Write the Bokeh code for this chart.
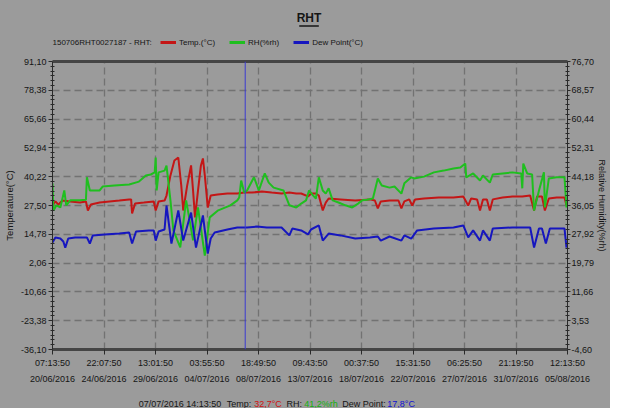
from bokeh.plotting import figure
from bokeh.layouts import column
from bokeh.models import (Range1d, LinearAxis, FixedTicker, Span, Legend, LegendItem, Grid)
from bokeh.core.properties import value
from bokeh.embed import file_html
from bokeh.resources import INLINE

# ---------------- data ----------------
TOTAL_HOURS = 1109            # 20/06/2016 07:13:50 -> 05/08/2016 12:13:50
TICK_STEP_MIN = 6654          # 4 d 14 h 54 min
x_tick_labels = ["07:13:50\n20/06/2016", "22:07:50\n24/06/2016", "13:01:50\n29/06/2016",
                 "03:55:50\n04/07/2016", "18:49:50\n08/07/2016", "09:43:50\n13/07/2016",
                 "00:37:50\n18/07/2016", "15:31:50\n22/07/2016", "06:25:50\n27/07/2016",
                 "21:19:50\n31/07/2016", "12:13:50\n05/08/2016"]
temp_ticks = [91.10, 78.38, 65.66, 52.94, 40.22, 27.50, 14.78, 2.06, -10.66, -23.38, -36.10]
rh_ticks = [76.70, 68.57, 60.44, 52.31, 44.18, 36.05, 27.92, 19.79, 11.66, 3.53, -4.60]

# (hours since start, value)
temp_series = [
    (0, 27.5), (6.3, 29.3), (12.7, 27.9), (21.2, 29.7), (38.1, 29.3), (59.3, 28.8), (72.0, 29.3),
    (76.2, 25.3), (82.5, 27.9), (101.6, 28.8), (122.8, 29.3), (143.9, 29.7), (165.1, 30.2),
    (169.3, 30.2), (171.4, 24.0), (177.8, 28.4), (196.8, 28.8), (218.0, 29.3), (222.2, 25.3),
    (228.5, 29.3), (241.3, 29.7), (245.5, 31.9), (254.0, 40.8), (262.5, 47.4), (270.9, 48.7),
    (277.3, 36.3), (281.5, 25.3), (290.0, 36.3), (298.4, 45.2), (302.7, 34.1), (306.9, 22.2),
    (313.3, 34.1), (319.6, 45.2), (323.9, 48.3), (328.0, 40.8), (334.4, 26.6), (340.7, 31.9),
    (355.6, 32.4), (376.7, 32.8), (397.9, 32.8), (412.7, 33.2), (429.7, 33.2), (450.8, 33.7),
    (472.0, 33.2), (493.2, 32.8), (510.1, 33.2), (524.9, 32.8), (535.5, 32.8), (550.3, 31.5),
    (556.6, 32.8), (567.2, 32.8), (573.5, 31.9), (582.0, 25.3), (588.4, 28.8), (594.7, 30.6),
    (620.1, 30.2), (651.9, 29.7), (683.6, 30.2), (694.2, 29.7), (700.5, 26.2), (706.9, 29.3),
    (725.9, 29.7), (745.0, 29.7), (751.3, 26.2), (757.7, 29.3), (768.2, 30.2), (774.6, 27.5),
    (780.9, 30.2), (800.0, 30.6), (831.7, 31.0), (863.5, 31.0), (884.6, 31.5), (895.2, 27.5),
    (901.6, 30.6), (914.3, 30.2), (920.6, 25.3), (927.0, 30.2), (935.4, 30.2), (941.8, 25.3),
    (948.1, 30.2), (969.3, 31.0), (990.5, 31.5), (1011.6, 31.5), (1028.6, 31.9), (1037.0, 25.3),
    (1043.4, 31.5), (1054.0, 31.5), (1060.3, 25.3), (1068.8, 30.6), (1085.7, 31.0),
    (1102.6, 31.0), (1106.8, 27.5),
]
rh_series = [
    (0, 42.3), (2.1, 34.6), (8.5, 36.1), (16.9, 35.5), (25.4, 40.3), (29.6, 36.1), (38.1, 37.5),
    (59.3, 37.5), (72.0, 37.7), (74.1, 44.0), (80.4, 40.3), (101.6, 40.3), (107.9, 41.4),
    (133.3, 41.7), (165.1, 42.0), (186.2, 42.8), (201.1, 44.5), (211.6, 44.8), (220.1, 45.4),
    (222.2, 49.6), (224.3, 40.3), (228.5, 45.4), (241.3, 45.9), (245.5, 47.3), (254.0, 37.5),
    (260.3, 29.0), (275.1, 24.2), (287.8, 37.5), (302.7, 26.2), (313.3, 35.5), (328.0, 21.9),
    (338.6, 32.7), (355.6, 34.6), (383.1, 36.1), (397.9, 37.5), (402.1, 38.3), (406.3, 43.1),
    (412.7, 39.7), (419.0, 40.3), (433.9, 44.0), (444.4, 40.3), (457.1, 45.1), (465.6, 42.5),
    (476.2, 41.1), (497.4, 40.3), (510.1, 36.1), (524.9, 35.5), (535.5, 36.6), (546.0, 37.5),
    (552.4, 40.3), (560.9, 38.9), (567.2, 38.0), (573.5, 44.0), (582.0, 40.3), (588.4, 39.4),
    (594.7, 40.9), (603.2, 37.5), (615.9, 36.9), (630.7, 36.1), (645.5, 35.5), (658.2, 36.6),
    (666.7, 37.5), (677.2, 37.7), (689.9, 38.0), (694.2, 40.3), (700.5, 43.7), (709.0, 41.7),
    (725.9, 41.1), (736.5, 41.4), (751.3, 39.4), (757.7, 42.3), (772.5, 44.0), (778.8, 43.7),
    (800.0, 44.2), (821.2, 45.4), (842.3, 45.9), (863.5, 46.5), (878.3, 46.8), (888.9, 47.9),
    (891.0, 44.0), (905.8, 45.1), (920.6, 43.1), (927.0, 44.5), (941.8, 42.5), (948.1, 44.8),
    (969.3, 45.1), (990.5, 45.4), (1009.5, 45.1), (1011.6, 40.9), (1013.8, 47.9), (1022.2, 45.1),
    (1032.8, 44.8), (1037.0, 34.6), (1047.6, 40.3), (1058.2, 45.4), (1060.3, 35.5),
    (1068.8, 43.7), (1085.7, 44.0), (1102.6, 44.0), (1106.8, 35.5),
]
dew_series = [
    (0, 11.2), (6.3, 13.4), (16.9, 12.9), (23.3, 11.6), (27.5, 8.9), (33.9, 12.9), (48.7, 13.4),
    (74.1, 13.4), (80.4, 10.7), (86.8, 14.3), (112.2, 14.7), (143.9, 15.1), (165.1, 15.6),
    (171.4, 10.7), (179.9, 16.0), (207.4, 16.5), (218.0, 16.5), (222.2, 12.0), (228.5, 16.0),
    (241.3, 16.9), (245.5, 27.5), (256.1, 10.7), (270.9, 25.3), (281.5, 12.0), (298.4, 24.4),
    (309.0, 8.9), (323.9, 23.1), (334.4, 6.3), (340.7, 12.9), (349.2, 15.6), (376.7, 16.9),
    (397.9, 17.8), (419.0, 17.8), (440.2, 18.2), (461.4, 17.8), (493.2, 17.8), (510.1, 14.3),
    (516.4, 17.3), (535.5, 16.5), (550.3, 14.7), (556.6, 16.9), (573.5, 18.7), (582.0, 12.0),
    (594.7, 15.1), (620.1, 14.3), (651.9, 12.9), (683.6, 13.4), (700.5, 13.8), (706.9, 12.0),
    (725.9, 13.8), (751.3, 12.0), (757.7, 14.3), (772.5, 12.9), (785.2, 16.5), (821.2, 17.3),
    (863.5, 17.8), (884.6, 18.7), (895.2, 13.4), (905.8, 16.5), (920.6, 12.0), (927.0, 16.5),
    (941.8, 12.0), (948.1, 17.3), (990.5, 17.8), (1028.6, 17.8), (1037.0, 8.9), (1047.6, 17.3),
    (1054.0, 17.3), (1062.4, 10.7), (1071.0, 17.3), (1102.6, 17.3), (1106.8, 8.9),
]
cursor_hours = 415            # 07/07/2016 14:13:50
title_text = "RHT"
device_text = "150706RHT0027187 - RHT:"
series_names = ["Temp.(°C)", "RH(%rh)", "Dew Point(°C)"]
status_texts = ["07/07/2016 14:13:50", "Temp:", "32,7°C", "RH:", "41,2%rh", "Dew Point:", "17,8°C"]

# ---------------- styling ----------------
FONT = "Liberation Sans"
BG = "#9b9b9b"
TXT = "#151515"
GRID = "#727272"
RED = "#c41616"
GREEN = "#1fbf1f"
BLUE = "#1616bf"
W = 610
LB, RB = 44, 40               # side borders shared by all three strips
FW = W - LB - RB              # nominal frame width in px


def to_min(h):
    return h * 60.0


def unzip(series):
    return [to_min(h) for h, _ in series], [v for _, v in series]


def fmt(v):
    return f"{v:.2f}".replace(".", ",")


def minors(ticks, n):
    t = sorted(ticks)
    out = []
    for a, b in zip(t[:-1], t[1:]):
        for k in range(1, n):
            out.append(a + (b - a) * k / n)
    return out


def text_strip(height):
    return figure(width=W, height=height, x_range=Range1d(0, FW), y_range=Range1d(0, height),
                  x_axis_type=None, y_axis_type=None, output_backend="svg", toolbar_location=None,
                  min_border_left=LB, min_border_right=RB, min_border_top=0, min_border_bottom=0,
                  background_fill_color=BG, border_fill_color=BG, outline_line_color=None)


x_end = to_min(TOTAL_HOURS)
x_ticks = [i * TICK_STEP_MIN for i in range(len(x_tick_labels))]

# ---------------- top strip: title + legend ----------------
top = text_strip(58)
top.text(x=[262], y=[41], text=[title_text], text_font=value(FONT), text_font_size=value("12px"),
         text_font_style="bold", text_color=TXT, text_align="center", text_baseline="middle")
top.segment(x0=[252], y0=[32.5], x1=[272], y1=[32.5], line_color=TXT, line_width=1.5)
top.text(x=[0], y=[16], text=[device_text], text_font=value(FONT), text_font_size=value("8px"),
         text_color=TXT, text_align="left", text_baseline="middle")
# legend swatch proxies (kept outside the strip's visible ranges)
sw = [top.line([-30, -20], [-30, -30], line_color=c, line_width=3) for c in (RED, GREEN, BLUE)]
legend = Legend(items=[LegendItem(label=n, renderers=[r]) for n, r in zip(series_names, sw)],
                orientation="horizontal", location=(108, 11), padding=0, margin=0,
                spacing=14, glyph_width=16, glyph_height=10, label_height=10,
                label_standoff=3, label_text_font=FONT, label_text_font_size="8px",
                label_text_color=TXT, border_line_color=None, background_fill_alpha=0)
top.add_layout(legend)

# ---------------- main chart ----------------
p = figure(width=W, height=332, x_range=Range1d(0, x_end), y_range=Range1d(-36.1, 91.1),
           x_axis_type=None, y_axis_type=None, output_backend="svg", toolbar_location=None,
           min_border_left=LB, min_border_right=RB, min_border_top=3, min_border_bottom=41,
           background_fill_color=BG, border_fill_color=BG, outline_line_color=None)
p.extra_y_ranges = {"rh": Range1d(-4.6, 76.7)}

xt = FixedTicker(ticks=x_ticks, minor_ticks=[])
yt = FixedTicker(ticks=temp_ticks, minor_ticks=minors(temp_ticks, 6))
rt = FixedTicker(ticks=rh_ticks, minor_ticks=minors(rh_ticks, 6))

p.add_layout(Grid(dimension=0, ticker=xt, grid_line_color=GRID, grid_line_dash="7 4",
                  grid_line_width=1.3))
p.add_layout(Grid(dimension=1, ticker=yt, grid_line_color=GRID, grid_line_dash="7 4",
                  grid_line_width=1.3))


def style_axis(ax):
    ax.major_label_text_font = FONT
    ax.major_label_text_font_size = "9px"
    ax.major_label_text_color = TXT
    ax.axis_label_text_font = FONT
    ax.axis_label_text_font_size = "9.5px"
    ax.axis_label_text_font_style = "normal"
    ax.axis_label_text_color = TXT
    ax.axis_line_color = "#2a2a2a"
    ax.major_tick_line_color = "#2a2a2a"
    ax.minor_tick_line_color = "#2a2a2a"


xa = LinearAxis(ticker=xt, major_label_overrides={t: l for t, l in zip(x_ticks, x_tick_labels)})
style_axis(xa)
xa.axis_line_width = 3
xa.axis_line_color = "#454545"
xa.major_tick_in = 0
xa.major_tick_out = 5
xa.major_label_standoff = 3
xa.major_label_text_line_height = 1.6
p.add_layout(xa, "below")

ta = LinearAxis(ticker=FixedTicker(ticks=[], minor_ticks=[]), major_label_text_font_size="0px",
                axis_line_width=3, axis_line_color="#454545", major_tick_out=0, minor_tick_out=0)
p.add_layout(ta, "above")

ya = LinearAxis(ticker=yt, axis_label="Temperature(°C)",
                major_label_overrides={t: fmt(t) for t in temp_ticks})
style_axis(ya)
ya.major_tick_in = 0
ya.major_tick_out = 4
ya.minor_tick_in = 2
ya.minor_tick_out = 2
ya.major_label_standoff = 2
ya.axis_label_standoff = 3
p.add_layout(ya, "left")

ra = LinearAxis(ticker=rt, y_range_name="rh", axis_label="Relative Humidity(%rh)",
                major_label_overrides={t: fmt(t) for t in rh_ticks})
style_axis(ra)
ra.axis_label_text_font_size = "9px"
ra.major_tick_in = 0
ra.major_tick_out = 3
ra.minor_tick_in = 2
ra.minor_tick_out = 2
ra.major_label_standoff = 1
ra.axis_label_standoff = 0
p.add_layout(ra, "right")

tx, ty = unzip(temp_series)
hx, hy = unzip(rh_series)
dx, dy = unzip(dew_series)
p.line(tx, ty, line_color=RED, line_width=2)
p.line(hx, hy, line_color=GREEN, line_width=2, y_range_name="rh")
p.line(dx, dy, line_color=BLUE, line_width=2)

p.add_layout(Span(location=to_min(cursor_hours), dimension="height", line_color="#3a3ad0",
                  line_width=1))

# ---------------- bottom strip: cursor read-out ----------------
bot = text_strip(18)
status_x = [88, 178, 206, 239, 257, 296, 342]
status_colors = [TXT, TXT, "#d01010", TXT, "#10b010", TXT, "#1010d0"]
bot.text(x=status_x, y=[5] * len(status_texts), text=status_texts, text_font=value(FONT),
         text_font_size=value("9px"), text_color=status_colors, text_align="left",
         text_baseline="middle")

layout = column(top, p, bot, spacing=0, styles={"background-color": BG})
open("out.html", "w").write(file_html(layout, INLINE))
